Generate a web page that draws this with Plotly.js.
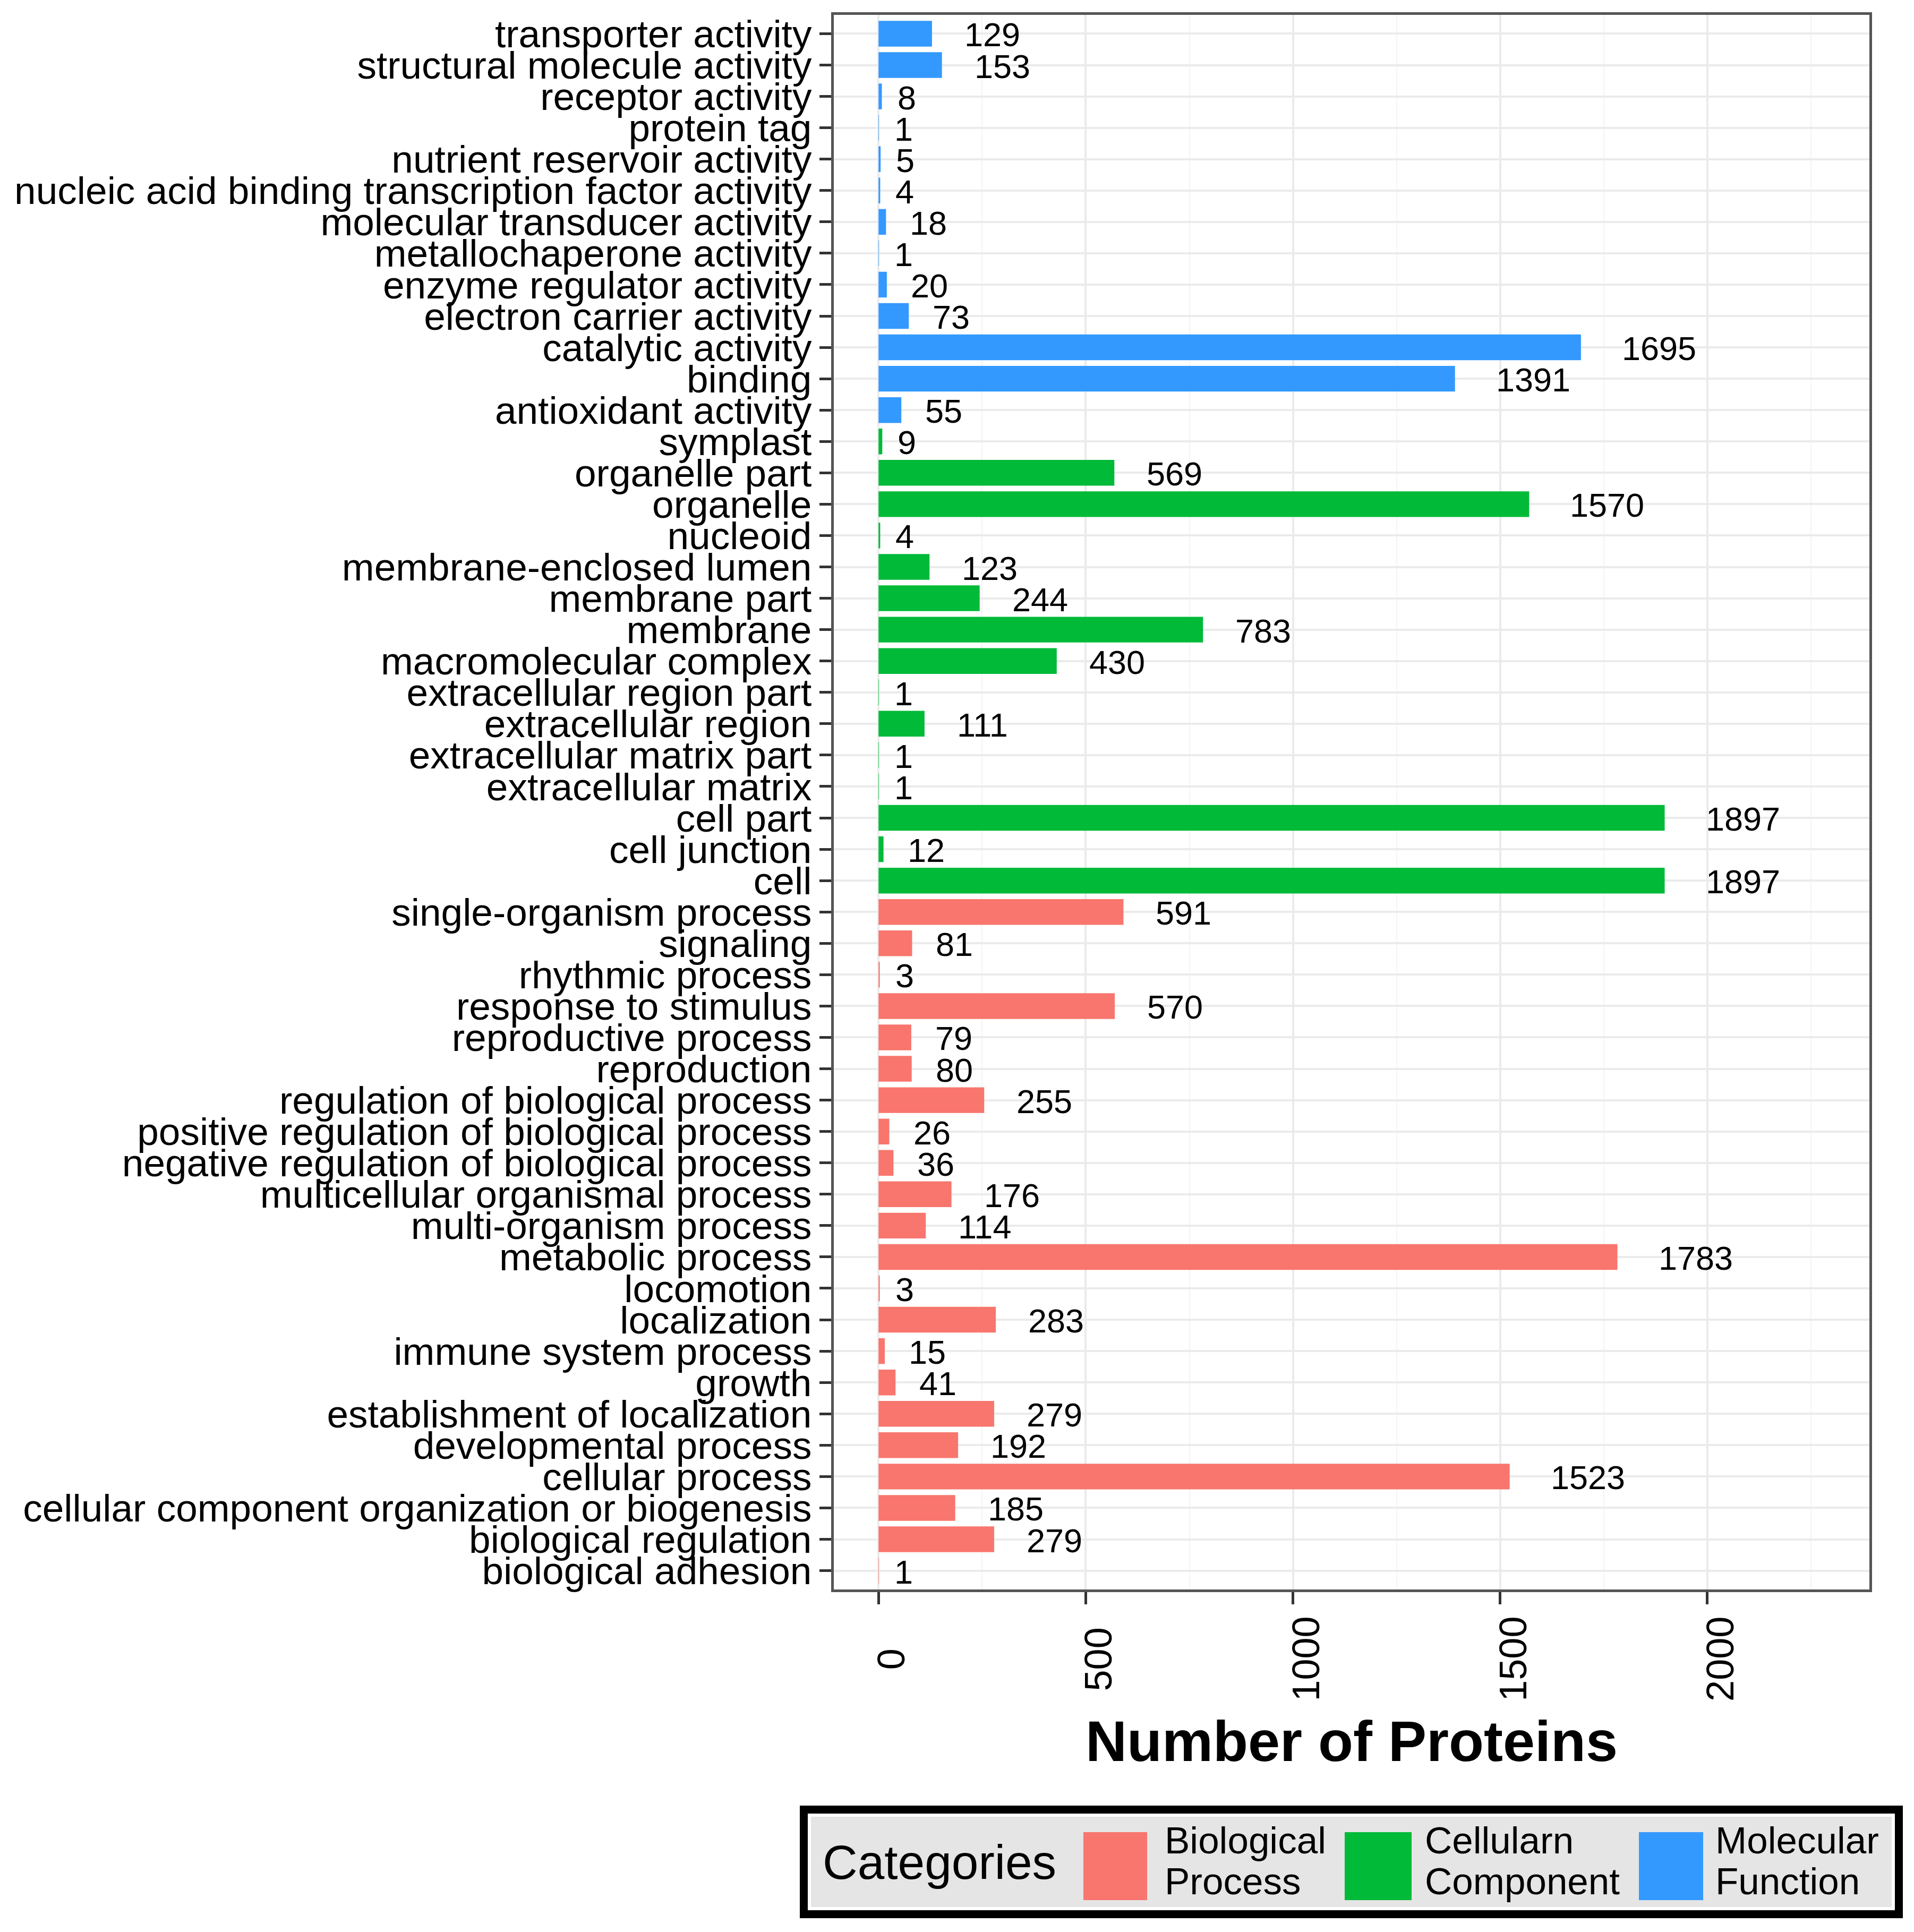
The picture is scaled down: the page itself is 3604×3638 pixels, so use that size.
<!DOCTYPE html>
<html>
<head>
<meta charset="utf-8">
<script src="https://cdn.plot.ly/plotly-3.0.1.min.js"></script>
<style>
  html, body { margin: 0; padding: 0; background: #ffffff; }
  #chart { width: 3604px; height: 3638px; }
</style>
</head>
<body>
<div id="chart"></div>
<script>
// ---- data (top-to-bottom as displayed) ----
var mfTerms = ["transporter activity", "structural molecule activity", "receptor activity", "protein tag",
  "nutrient reservoir activity", "nucleic acid binding transcription factor activity",
  "molecular transducer activity", "metallochaperone activity", "enzyme regulator activity",
  "electron carrier activity", "catalytic activity", "binding", "antioxidant activity"];
var mfCounts = [129, 153, 8, 1, 5, 4, 18, 1, 20, 73, 1695, 1391, 55];

var ccTerms = ["symplast", "organelle part", "organelle", "nucleoid", "membrane-enclosed lumen",
  "membrane part", "membrane", "macromolecular complex", "extracellular region part",
  "extracellular region", "extracellular matrix part", "extracellular matrix", "cell part",
  "cell junction", "cell"];
var ccCounts = [9, 569, 1570, 4, 123, 244, 783, 430, 1, 111, 1, 1, 1897, 12, 1897];

var bpTerms = ["single-organism process", "signaling", "rhythmic process", "response to stimulus",
  "reproductive process", "reproduction", "regulation of biological process",
  "positive regulation of biological process", "negative regulation of biological process",
  "multicellular organismal process", "multi-organism process", "metabolic process", "locomotion",
  "localization", "immune system process", "growth", "establishment of localization",
  "developmental process", "cellular process", "cellular component organization or biogenesis",
  "biological regulation", "biological adhesion"];
var bpCounts = [591, 81, 3, 570, 79, 80, 255, 26, 36, 176, 114, 1783, 3, 283, 15, 41, 279, 192,
  1523, 185, 279, 1];

var categoryNames = ["Biological Process", "Cellularn Component", "Molecular Function"];
var legendLines = [["Biological", "Process"], ["Cellularn", "Component"], ["Molecular", "Function"]];
var xTickVals = [0, 500, 1000, 1500, 2000];
var xTickText = ["0", "500", "1000", "1500", "2000"];
var xTitle = "Number of Proteins";
var legendTitle = "Categories";

// ---- style ----
var colors = ["#F8766D", "#00BA38", "#3399FF"];
var FONT = "Liberation Sans, Arial, Helvetica, sans-serif";
var W = 3604, H = 3638;
var L = 1570, R = 3520, T = 28, B = 2993;
function px(X) { return (X - L) / (R - L); }
function py(Y) { return (B - Y) / (B - T); }

var allTerms = mfTerms.concat(ccTerms).concat(bpTerms);

function barTrace(terms, counts, name, color) {
  return {
    type: "bar", orientation: "h", name: name,
    x: counts, y: terms,
    marker: { color: color, line: { width: 0 } },
    width: 0.82, hoverinfo: "x+y", showlegend: false
  };
}
var data = [
  barTrace(bpTerms, bpCounts, categoryNames[0], colors[0]),
  barTrace(ccTerms, ccCounts, categoryNames[1], colors[1]),
  barTrace(mfTerms, mfCounts, categoryNames[2], colors[2])
];

var annotations = [];
// value labels
function addValueLabels(terms, counts) {
  for (var i = 0; i < terms.length; i++) {
    var s = String(counts[i]);
    annotations.push({
      x: counts[i], y: terms[i], xref: "x", yref: "y",
      text: s, showarrow: false, xanchor: "left", yanchor: "middle",
      xshift: 11 + 16 * s.length, yshift: -2,
      font: { family: FONT, size: 63, color: "#000000" }
    });
  }
}
addValueLabels(mfTerms, mfCounts);
addValueLabels(ccTerms, ccCounts);
addValueLabels(bpTerms, bpCounts);

// rotated x tick labels (centred, as in the reference)
for (var k = 0; k < xTickVals.length; k++) {
  annotations.push({
    x: xTickVals[k], y: py(3124), xref: "x", yref: "paper",
    text: xTickText[k], textangle: -90, showarrow: false,
    xanchor: "center", yanchor: "middle", xshift: 24,
    font: { family: FONT, size: 72, color: "#000000" }
  });
}

// legend (drawn to match the large ggplot legend keys)
var shapes = [
  { type: "rect", xref: "paper", yref: "paper",
    x0: px(1513.5), x1: px(3575.5), y0: py(3407.5), y1: py(3604.5),
    line: { color: "#000000", width: 15 }, fillcolor: "#FFFFFF", layer: "above" },
  { type: "rect", xref: "paper", yref: "paper",
    x0: px(1527), x1: px(3562), y0: py(3421), y1: py(3591),
    line: { width: 0 }, fillcolor: "#E5E5E5", layer: "above" }
];
var keyX = [[2040, 2160], [2532, 2658], [3086, 3207]];
var textX = [2191, 2681, 3228];
for (var j = 0; j < 3; j++) {
  shapes.push({ type: "rect", xref: "paper", yref: "paper",
    x0: px(keyX[j][0]), x1: px(keyX[j][1]), y0: py(3450), y1: py(3578),
    line: { width: 0 }, fillcolor: colors[j], layer: "above" });
  annotations.push({ x: px(textX[j]), y: py(3465), xref: "paper", yref: "paper",
    text: legendLines[j][0], showarrow: false, xanchor: "left", yanchor: "middle",
    font: { family: FONT, size: 71, color: "#000000" } });
  annotations.push({ x: px(textX[j]), y: py(3542), xref: "paper", yref: "paper",
    text: legendLines[j][1], showarrow: false, xanchor: "left", yanchor: "middle",
    font: { family: FONT, size: 71, color: "#000000" } });
}
annotations.push({ x: px(1547), y: py(3506), xref: "paper", yref: "paper",
  text: legendTitle, showarrow: false, xanchor: "left", yanchor: "middle",
  font: { family: FONT, size: 91, color: "#000000" } });

var layout = {
  width: W, height: H,
  margin: { l: L, r: W - R, t: T, b: H - B, pad: 0 },
  paper_bgcolor: "#FFFFFF", plot_bgcolor: "#FFFFFF",
  barmode: "overlay",
  showlegend: false,
  font: { family: FONT, color: "#000000" },
  xaxis: {
    range: [-108, 2391], tickmode: "linear", tick0: 0, dtick: 500,
    showticklabels: false, ticks: "outside", ticklen: 23, tickwidth: 5, tickcolor: "#333333",
    showgrid: true, gridcolor: "#EBEBEB", gridwidth: 4, zeroline: false,
    minor: { dtick: 250, showgrid: true, gridcolor: "#F4F4F4", gridwidth: 2, ticks: "" },
    showline: true, linecolor: "#555555", linewidth: 5, mirror: true,
    title: { text: xTitle, standoff: 222,
      font: { family: FONT, size: 108, color: "#000000", weight: "bold" } }
  },
  yaxis: {
    type: "category", categoryorder: "array", categoryarray: allTerms,
    tickmode: "array", tickvals: allTerms, ticktext: allTerms,
    range: [49.6, -0.6],
    ticks: "outside", ticklen: 22, tickwidth: 5, tickcolor: "#333333",
    tickfont: { family: FONT, size: 73, color: "#000000" },
    ticklabelstandoff: 0,
    showgrid: true, gridcolor: "#EBEBEB", gridwidth: 4, zeroline: false,
    showline: true, linecolor: "#555555", linewidth: 5, mirror: true,
    automargin: false
  },
  annotations: annotations,
  shapes: shapes
};

Plotly.newPlot("chart", data, layout, { staticPlot: true, displayModeBar: false });
</script>
</body>
</html>
